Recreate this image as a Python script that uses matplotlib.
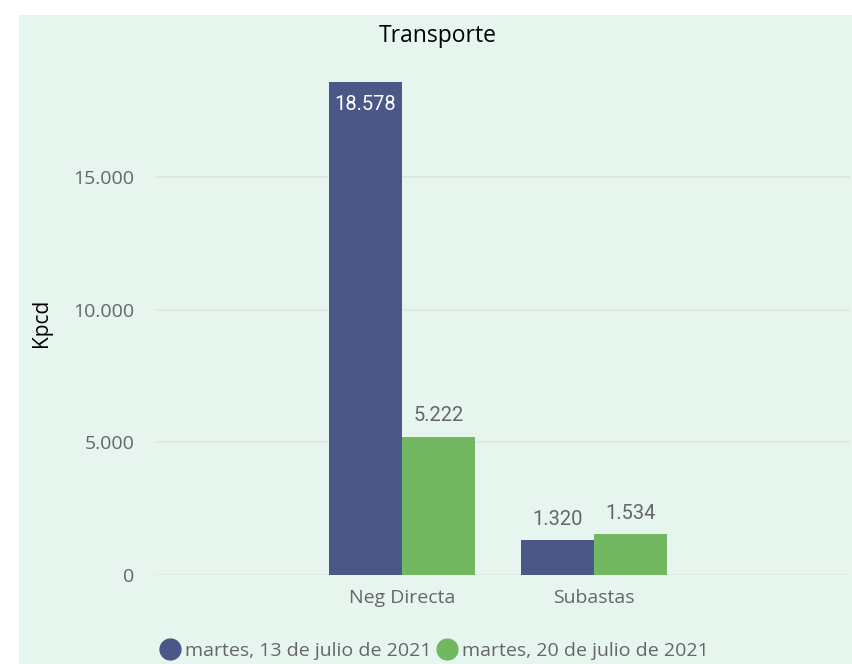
import matplotlib.pyplot as plt
import numpy as np
from matplotlib.patches import Rectangle
from matplotlib.lines import Line2D

categories = ["Neg Directa", "Subastas"]
series_names = ["martes, 13 de julio de 2021", "martes, 20 de julio de 2021"]
jul13 = [18578, 1320]
jul20 = [5222, 1534]
yticks = [0, 5000, 10000, 15000]
ytick_labels = ["0", "5.000", "10.000", "15.000"]

blue = "#4a5787"
green = "#72b863"
bg = "#e6f5ee"
gray = "#666666"

def fmt(v):
    return f"{v:,}".replace(",", ".")

fig = plt.figure(figsize=(8.52, 6.64), dpi=100)
fig.patch.set_facecolor("white")
# mint panel behind the chart
fig.patches.append(Rectangle((19 / 852, 0), 1, 1 - 15 / 664, transform=fig.transFigure,
                             facecolor=bg, edgecolor="none", zorder=-1))

ax = fig.add_axes([0.182, 0.134, 0.816, 0.759])
ax.set_facecolor("none")

x = np.arange(len(categories))
w = 0.38
b1 = ax.bar(x - w / 2, jul13, w, color=blue, zorder=3)
b2 = ax.bar(x + w / 2, jul20, w, color=green, zorder=3)

ax.set_xlim(-1.286, 2.333)
ax.set_ylim(0, 19000)
ax.set_yticks(yticks)
ax.set_yticklabels(ytick_labels)
ax.set_xticks(x)
ax.set_xticklabels(categories)
ax.tick_params(axis="both", length=0, labelsize=14, labelcolor=gray)
ax.tick_params(axis="y", pad=15)
ax.tick_params(axis="x", pad=10)
for lab in ax.get_xticklabels() + ax.get_yticklabels():
    lab.set_fontfamily("Open Sans")
for s in ax.spines.values():
    s.set_visible(False)
ax.grid(axis="y", color="#dfe6e2", linewidth=1.2, zorder=0)

ax.set_ylabel("Kpcd", fontsize=15, fontfamily="Open Sans", color="black", labelpad=15)

# data labels
for bars, vals in [(b1, jul13), (b2, jul20)]:
    for rect, v in zip(bars, vals):
        cx = rect.get_x() + rect.get_width() / 2
        if v > 15000:
            ax.annotate(fmt(v), (cx, v), xytext=(0, -9), textcoords="offset points",
                        ha="center", va="top", color="white", fontsize=14.5,
                        fontfamily="Roboto", zorder=4)
        else:
            ax.annotate(fmt(v), (cx, v), xytext=(0, 8), textcoords="offset points",
                        ha="center", va="bottom", color=gray, fontsize=14.5,
                        fontfamily="Roboto", zorder=4)

fig.text(0.514, 0.946, "Transporte", ha="center", va="center", fontsize=16.5,
         fontfamily="Open Sans", color="black")

handles = [Line2D([], [], marker="o", linestyle="none", markersize=15, color=c)
           for c in (blue, green)]
leg = fig.legend(handles, series_names, loc="center", bbox_to_anchor=(0.51, 0.02),
                 ncol=2, frameon=False, handletextpad=0.25,
                 columnspacing=0.3, handlelength=1.0, labelcolor=gray,
                 prop={"family": "Open Sans", "size": 14})

fig.savefig("out.png", dpi=100)
